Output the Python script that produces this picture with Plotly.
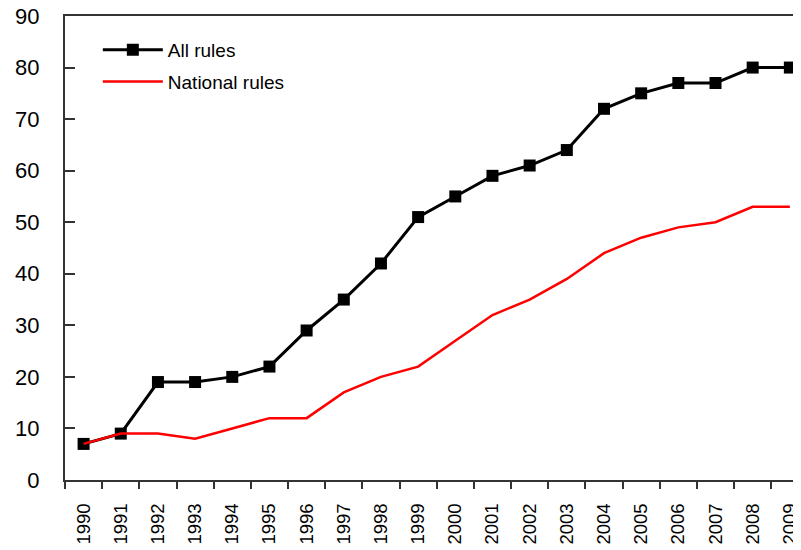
import plotly.graph_objects as go

years = [str(y) for y in range(1990, 2010)]
all_rules = [7, 9, 19, 19, 20, 22, 29, 35, 42, 51, 55, 59, 61, 64, 72, 75, 77, 77, 80, 80]
national_rules = [7, 9, 9, 8, 10, 12, 12, 17, 20, 22, 27, 32, 35, 39, 44, 47, 49, 50, 53, 53]
y_ticks = [0, 10, 20, 30, 40, 50, 60, 70, 80, 90]

fig = go.Figure()
fig.add_trace(go.Scatter(
    x=years, y=all_rules, name="All rules", mode="lines+markers",
    legendgroup="a",
    line=dict(color="black", width=3),
    marker=dict(symbol="square", size=12, color="black"),
    cliponaxis=False,
))
fig.add_trace(go.Scatter(
    x=years, y=national_rules, name="National rules", mode="lines",
    legendgroup="b",
    line=dict(color="#ff0000", width=2.5),
    cliponaxis=False,
))

fig.update_layout(
    width=793, height=542,
    margin=dict(l=57, r=0, t=8, b=70),
    paper_bgcolor="white", plot_bgcolor="white",
    font=dict(family="Liberation Sans, Arial, sans-serif", color="black"),
    showlegend=True,
    legend=dict(
        x=0.0446, y=0.968, xanchor="left", yanchor="top",
        font=dict(size=19, color="black"),
        bgcolor="rgba(0,0,0,0)", itemwidth=60, tracegroupgap=4,
        traceorder="grouped",
    ),
    xaxis=dict(
        type="category", range=[-0.5, 19.3],
        automargin=False, ticklabeloverflow="allow",
        showline=True, linecolor="#333", linewidth=2, mirror=True,
        ticks="outside", ticklen=7, tickcolor="#333", tickwidth=2,
        tickson="boundaries", tickangle=-90,
        tickfont=dict(size=18.5, color="black"),
        ticklabelstandoff=14,
        showgrid=False, zeroline=False,
    ),
    yaxis=dict(
        range=[0, 90], tickvals=y_ticks,
        automargin=False, ticklabeloverflow="allow",
        showline=True, linecolor="#333", linewidth=2,
        ticks="inside", ticklen=10, tickcolor="#333", tickwidth=2,
        tickfont=dict(size=22, color="black"),
        ticklabelstandoff=19,
        showgrid=False, zeroline=False,
    ),
)

fig.write_html("out.html")
